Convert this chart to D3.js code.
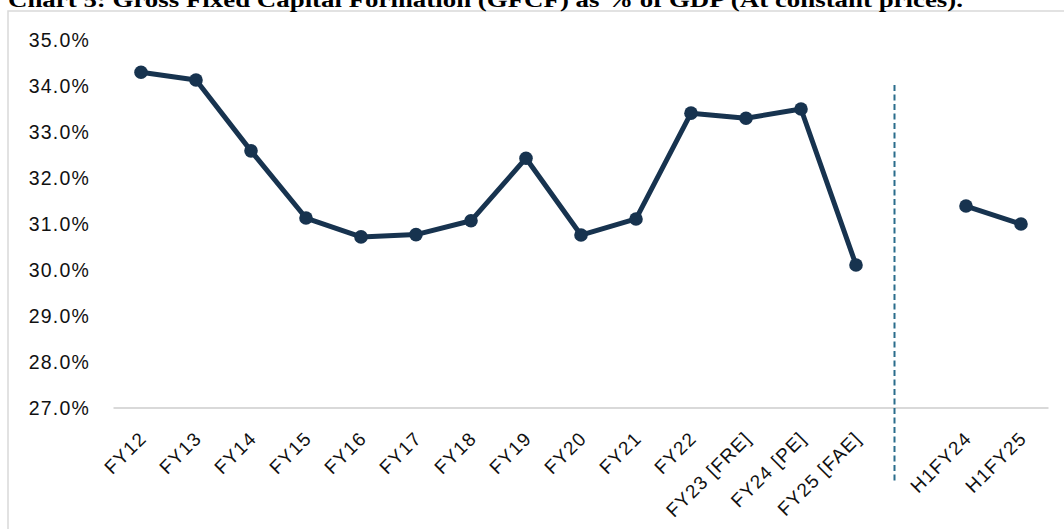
<!DOCTYPE html>
<html>
<head>
<meta charset="utf-8">
<script src="https://cdn.jsdelivr.net/npm/d3@7"></script>
<style>
  html, body { margin: 0; padding: 0; background: #fff; }
  svg { display: block; }
</style>
</head>
<body>
<svg id="chart" width="1064" height="529"></svg>
<script>
// ---- data ----
const title = "Chart 5:  Gross Fixed Capital Formation (GFCF) as % of GDP (At constant prices).";
const categories = ["FY12","FY13","FY14","FY15","FY16","FY17","FY18","FY19","FY20","FY21","FY22","FY23 [FRE]","FY24 [PE]","FY25 [FAE]","","H1FY24","H1FY25"];
const annualCats = ["FY12","FY13","FY14","FY15","FY16","FY17","FY18","FY19","FY20","FY21","FY22","FY23 [FRE]","FY24 [PE]","FY25 [FAE]"];
const annualValues = [34.30,34.13,32.59,31.13,30.72,30.77,31.07,32.43,30.76,31.11,33.41,33.30,33.50,30.11];
const halfCats = ["H1FY24","H1FY25"];
const halfValues = [31.39,31.00];
const yTicks = [27,28,29,30,31,32,33,34,35];
const dividerIndex = 13.7; // position of dashed separator, in category units

// ---- layout ----
const svg = d3.select("#chart");
const W = 1064, H = 529;
const plot = { left: 113.5, right: 1048.5, top: 40, bottom: 408 };
const lineColor = "#17334f";
const axisColor = "#d9d9d9";
const labelFont = "'Liberation Sans', Arial, sans-serif";

const x = d3.scaleBand().domain(categories).range([plot.left, plot.right]).padding(0);
const cx = c => x(c) + x.bandwidth() / 2;
const xi = d3.scaleLinear().domain([0, categories.length - 1]).range([cx(categories[0]), cx(categories[categories.length - 1])]);
const y = d3.scaleLinear().domain([27, 35]).range([plot.bottom, plot.top]);

// frame
svg.append("path")
  .attr("d", `M8,${H + 2} L8,11 L${W + 2},11`)
  .attr("fill", "none").attr("stroke", axisColor).attr("stroke-width", 1.5);

// title (partly cut at the top edge, as in the source)
svg.append("text")
  .attr("x", 8).attr("y", 7)
  .attr("font-family", "'Liberation Serif', 'Times New Roman', serif")
  .attr("font-weight", "bold").attr("font-size", 20)
  .attr("textLength", 955).attr("lengthAdjust", "spacingAndGlyphs")
  .attr("fill", "#000")
  .text(title);

// y axis labels
const yAxis = d3.axisLeft(y).tickValues(yTicks).tickSize(0).tickPadding(0)
  .tickFormat(d => d3.format(".1f")(d) + "%");
const yg = svg.append("g").attr("transform", "translate(90,0)").call(yAxis);
yg.select(".domain").remove();
yg.selectAll("text")
  .attr("font-family", labelFont).attr("font-size", 19.5)
  .attr("letter-spacing", "1.2px")
  .attr("fill", "#111").attr("dy", "0.35em");

// x axis
const xAxis = d3.axisBottom(x).tickSize(0).tickPadding(0);
const xg = svg.append("g").attr("transform", `translate(0,${plot.bottom})`).call(xAxis);
xg.select(".domain").attr("stroke", axisColor).attr("stroke-width", 2)
  .attr("d", `M${plot.left},0H${plot.right}`);
xg.selectAll(".tick text")
  .attr("font-family", labelFont).attr("font-size", 19)
  .attr("letter-spacing", "1.2px")
  .attr("fill", "#111")
  .attr("text-anchor", "end")
  .attr("x", 0).attr("y", 0).attr("dy", "0.35em")
  .attr("transform", "translate(2,27) rotate(-45)");

// divider
svg.append("line")
  .attr("x1", xi(dividerIndex)).attr("x2", xi(dividerIndex))
  .attr("y1", y(34.02)).attr("y2", y(25.35))
  .attr("stroke", "#2a6d8c").attr("stroke-width", 2)
  .attr("stroke-dasharray", "6,3.5");

// lines
const line = d3.line().x(d => cx(d[0])).y(d => y(d[1]));
function series(cats, vals) {
  const data = cats.map((c, i) => [c, vals[i]]);
  svg.append("path").datum(data)
    .attr("d", line).attr("fill", "none")
    .attr("stroke", lineColor).attr("stroke-width", 5)
    .attr("stroke-linejoin", "round");
  svg.append("g").selectAll("circle").data(data).join("circle")
    .attr("cx", d => cx(d[0])).attr("cy", d => y(d[1]))
    .attr("r", 6.8).attr("fill", lineColor);
}
series(annualCats, annualValues);
series(halfCats, halfValues);
</script>
</body>
</html>
